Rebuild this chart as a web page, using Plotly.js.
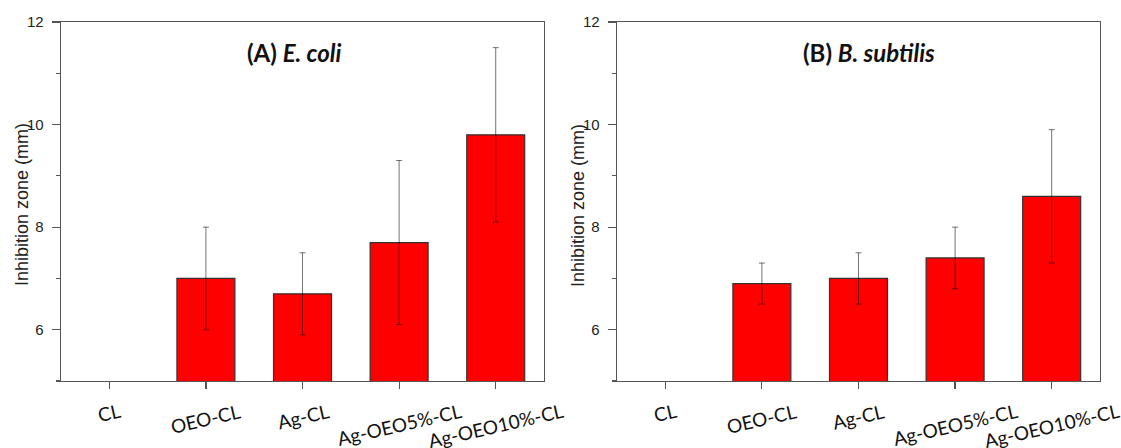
<!DOCTYPE html>
<html>
<head>
<meta charset="utf-8">
<script src="https://cdn.plot.ly/plotly-3.0.1.min.js"></script>
<style>html,body{margin:0;padding:0;background:#fff}</style>
</head>
<body>
<div id="chart" style="width:1121px;height:448px"></div>
<script>
// Inhibition zone diameters (mm), mean and standard deviation per sample
const categories = ['CL', 'OEO-CL', 'Ag-CL', 'Ag-OEO5%-CL', 'Ag-OEO10%-CL'];
const ecoliZone = [0, 7.0, 6.7, 7.7, 9.8];
const ecoliErr = [0, 1.0, 0.8, 1.6, 1.7];
const subtilisZone = [0, 6.9, 7.0, 7.4, 8.6];
const subtilisErr = [0, 0.4, 0.5, 0.6, 1.3];
const panelTitles = ['<b>(A) <i>E. coli</i></b>', '<b>(B) <i>B. subtilis</i></b>'];
const yTitle = 'Inhibition zone (mm)';
const yTickVals = [6, 8, 10, 12];

const labelFont = 'Lato, "Open Sans", sans-serif';
const numFont = '"Liberation Sans", Arial, sans-serif';
const lineColor = '#555555';

function barTrace(values, errors, xa, ya) {
  return {
    type: 'bar',
    x: categories,
    y: values,
    xaxis: xa,
    yaxis: ya,
    width: 0.6,
    marker: {color: '#ff0000', line: {color: '#333333', width: 1.2}},
    error_y: {type: 'data', array: errors, visible: true,
              color: 'rgba(0,0,0,0.55)', thickness: 1, width: 3},
    showlegend: false,
    hoverinfo: 'x+y'
  };
}

function xAxis(domain, anchor) {
  return {
    domain: domain, anchor: anchor, type: 'category',
    categoryorder: 'array', categoryarray: categories,
    range: [-0.5, categories.length - 0.5],
    showline: true, linecolor: lineColor, linewidth: 1.3, mirror: true,
    ticks: 'outside', ticklen: 7, tickwidth: 1.2, tickcolor: lineColor,
    showticklabels: false, showgrid: false, zeroline: false, fixedrange: true
  };
}

function yAxis(anchor) {
  return {
    anchor: anchor, range: [5, 12],
    tickvals: yTickVals, ticktext: yTickVals.map(String),
    showline: true, linecolor: lineColor, linewidth: 1.3, mirror: true,
    ticks: 'outside', ticklen: 8, tickwidth: 1.2, tickcolor: lineColor,
    ticklabelstandoff: 5,
    minor: {dtick: 1, tick0: 0, ticks: 'outside', ticklen: 4, tickwidth: 1.2, tickcolor: lineColor},
    tickfont: {family: numFont, size: 15, color: '#222'},
    showgrid: false, zeroline: false, fixedrange: true
  };
}

const data = [
  barTrace(ecoliZone, ecoliErr, 'x', 'y'),
  barTrace(subtilisZone, subtilisErr, 'x2', 'y2')
];

const annotations = [];
[['x', 'y'], ['x2', 'y2']].forEach(function (ax, p) {
  // panel heading
  annotations.push({
    xref: ax[0] + ' domain', yref: ax[1] + ' domain',
    x: 0.381, y: 0.916, xanchor: 'left', yanchor: 'middle',
    text: panelTitles[p], showarrow: false,
    font: {family: labelFont, size: 24, color: '#111'}
  });
  // vertical axis title
  annotations.push({
    xref: ax[0] + ' domain', yref: ax[1] + ' domain',
    x: 0, y: 0.49, xanchor: 'center', yanchor: 'middle', xshift: -39,
    textangle: -90, text: yTitle, showarrow: false, borderpad: 0,
    font: {family: numFont, size: 18, color: '#222'}
  });
  // slanted category labels
  categories.forEach(function (c, i) {
    annotations.push({
      xref: ax[0], yref: 'paper', x: i, y: 0, yanchor: 'top', xanchor: 'center',
      yshift: -17, textangle: -13, text: c, showarrow: false, borderpad: 0,
      font: {family: labelFont, size: 19, color: '#111'}
    });
  });
});

const layout = {
  width: 1121, height: 448,
  margin: {l: 61, r: 21, t: 22, b: 67},
  paper_bgcolor: '#fff', plot_bgcolor: '#fff',
  xaxis: xAxis([0, 0.4649], 'y'),
  yaxis: yAxis('x'),
  xaxis2: xAxis([0.5351, 1], 'y2'),
  yaxis2: yAxis('x2'),
  annotations: annotations,
  bargap: 0.4
};

Plotly.newPlot('chart', data, layout, {displayModeBar: false, staticPlot: true});
</script>
</body>
</html>
